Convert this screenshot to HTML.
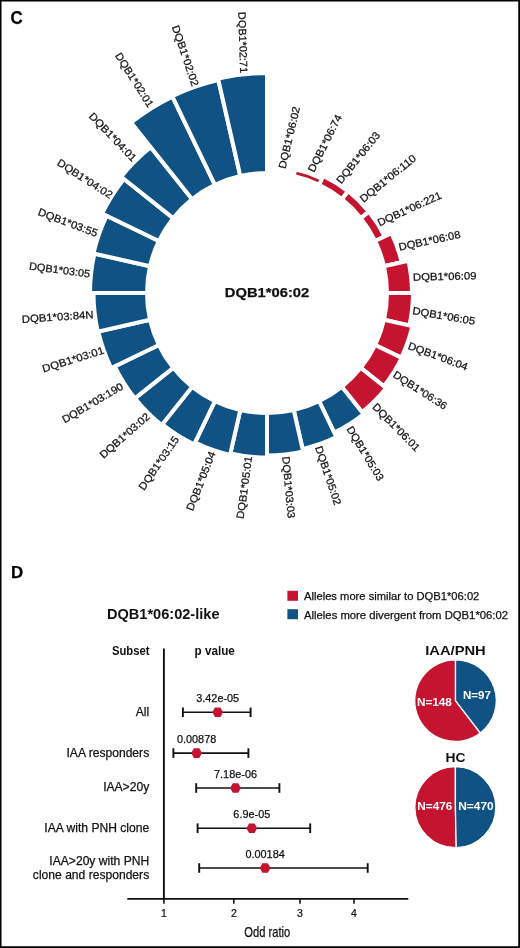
<!DOCTYPE html>
<html><head><meta charset="utf-8"><title>DQB1*06:02 circular plot and forest plot</title>
<style>
html,body{margin:0;padding:0;background:#fff;}
body{width:520px;height:948px;position:relative;overflow:hidden;font-family:"Liberation Sans", sans-serif;}
</style></head><body>
<svg width="520" height="948" viewBox="0 0 520 948" style="position:absolute;left:0;top:0;will-change:transform;opacity:0.999" font-family='"Liberation Sans", sans-serif'>
<rect width="520" height="948" fill="#fff"/>
<g stroke="#fff" stroke-width="4.0" stroke-linejoin="miter"><path d="M293.70,176.01 L295.26,169.18 A127.00,127.00 0 0 1 322.10,178.58 L319.07,184.88 A120.00,120.00 0 0 0 293.70,176.01 Z" fill="#c41430"/><path d="M319.07,184.88 L323.40,175.87 A130.00,130.00 0 0 1 348.05,191.36 L341.82,199.18 A120.00,120.00 0 0 0 319.07,184.88 Z" fill="#c41430"/><path d="M341.82,199.18 L348.24,191.13 A130.30,130.30 0 0 1 368.87,211.76 L360.82,218.18 A120.00,120.00 0 0 0 341.82,199.18 Z" fill="#c41430"/><path d="M360.82,218.18 L369.03,211.63 A130.50,130.50 0 0 1 384.58,236.38 L375.12,240.93 A120.00,120.00 0 0 0 360.82,218.18 Z" fill="#c41430"/><path d="M375.12,240.93 L391.42,233.08 A138.10,138.10 0 0 1 401.64,262.27 L383.99,266.30 A120.00,120.00 0 0 0 375.12,240.93 Z" fill="#c41430"/><path d="M383.99,266.30 L408.36,260.73 A145.00,145.00 0 0 1 412.00,293.00 L387.00,293.00 A120.00,120.00 0 0 0 383.99,266.30 Z" fill="#c41430"/><path d="M387.00,293.00 L413.00,293.00 A146.00,146.00 0 0 1 409.34,325.49 L383.99,319.70 A120.00,120.00 0 0 0 387.00,293.00 Z" fill="#c41430"/><path d="M383.99,319.70 L412.26,326.16 A149.00,149.00 0 0 1 401.24,357.65 L375.12,345.07 A120.00,120.00 0 0 0 383.99,319.70 Z" fill="#c41430"/><path d="M375.12,345.07 L401.69,357.87 A149.50,149.50 0 0 1 383.88,386.21 L360.82,367.82 A120.00,120.00 0 0 0 375.12,345.07 Z" fill="#c41430"/><path d="M360.82,367.82 L386.23,388.08 A152.50,152.50 0 0 1 362.08,412.23 L341.82,386.82 A120.00,120.00 0 0 0 360.82,367.82 Z" fill="#c41430"/><path d="M341.82,386.82 L363.64,414.18 A155.00,155.00 0 0 1 334.25,432.65 L319.07,401.12 A120.00,120.00 0 0 0 341.82,386.82 Z" fill="#0f5283"/><path d="M319.07,401.12 L336.42,437.16 A160.00,160.00 0 0 1 302.60,448.99 L293.70,409.99 A120.00,120.00 0 0 0 319.07,401.12 Z" fill="#0f5283"/><path d="M293.70,409.99 L303.16,451.43 A162.50,162.50 0 0 1 267.00,455.50 L267.00,413.00 A120.00,120.00 0 0 0 293.70,409.99 Z" fill="#0f5283"/><path d="M267.00,413.00 L267.00,457.50 A164.50,164.50 0 0 1 230.40,453.38 L240.30,409.99 A120.00,120.00 0 0 0 267.00,413.00 Z" fill="#0f5283"/><path d="M240.30,409.99 L230.06,454.84 A166.00,166.00 0 0 1 194.98,442.56 L214.93,401.12 A120.00,120.00 0 0 0 240.30,409.99 Z" fill="#0f5283"/><path d="M214.93,401.12 L194.11,444.36 A168.00,168.00 0 0 1 162.25,424.35 L192.18,386.82 A120.00,120.00 0 0 0 214.93,401.12 Z" fill="#0f5283"/><path d="M192.18,386.82 L161.63,425.13 A169.00,169.00 0 0 1 134.87,398.37 L173.18,367.82 A120.00,120.00 0 0 0 192.18,386.82 Z" fill="#0f5283"/><path d="M173.18,367.82 L134.87,398.37 A169.00,169.00 0 0 1 114.74,366.33 L158.88,345.07 A120.00,120.00 0 0 0 173.18,367.82 Z" fill="#0f5283"/><path d="M158.88,345.07 L111.13,368.06 A173.00,173.00 0 0 1 98.34,331.50 L150.01,319.70 A120.00,120.00 0 0 0 158.88,345.07 Z" fill="#0f5283"/><path d="M150.01,319.70 L97.85,331.61 A173.50,173.50 0 0 1 93.50,293.00 L147.00,293.00 A120.00,120.00 0 0 0 150.01,319.70 Z" fill="#0f5283"/><path d="M147.00,293.00 L90.00,293.00 A177.00,177.00 0 0 1 94.44,253.61 L150.01,266.30 A120.00,120.00 0 0 0 147.00,293.00 Z" fill="#0f5283"/><path d="M150.01,266.30 L93.46,253.39 A178.00,178.00 0 0 1 106.63,215.77 L158.88,240.93 A120.00,120.00 0 0 0 150.01,266.30 Z" fill="#0f5283"/><path d="M158.88,240.93 L102.12,213.60 A183.00,183.00 0 0 1 123.92,178.90 L173.18,218.18 A120.00,120.00 0 0 0 158.88,240.93 Z" fill="#0f5283"/><path d="M173.18,218.18 L121.19,176.72 A186.50,186.50 0 0 1 150.72,147.19 L192.18,199.18 A120.00,120.00 0 0 0 173.18,218.18 Z" fill="#0f5283"/><path d="M192.18,199.18 L131.08,122.56 A218.00,218.00 0 0 1 172.41,96.59 L214.93,184.88 A120.00,120.00 0 0 0 192.18,199.18 Z" fill="#0f5283"/><path d="M214.93,184.88 L172.20,96.14 A218.50,218.50 0 0 1 218.38,79.98 L240.30,176.01 A120.00,120.00 0 0 0 214.93,184.88 Z" fill="#0f5283"/><path d="M240.30,176.01 L218.05,78.52 A220.00,220.00 0 0 1 267.00,73.00 L267.00,173.00 A120.00,120.00 0 0 0 240.30,176.01 Z" fill="#0f5283"/></g>
<text x="0.00" y="3.86" font-size="10.60" fill="#111" text-anchor="middle" textLength="63.34" lengthAdjust="spacingAndGlyphs" transform="translate(288.95 137.50) rotate(-76.60)" stroke="#111" stroke-width="0.25">DQB1*06:02</text>
<text x="0.00" y="3.86" font-size="10.60" fill="#111" text-anchor="middle" textLength="62.84" lengthAdjust="spacingAndGlyphs" transform="translate(324.65 143.25) rotate(-63.39)" stroke="#111" stroke-width="0.25">DQB1*06:74</text>
<text x="0.00" y="3.86" font-size="10.60" fill="#111" text-anchor="middle" textLength="62.99" lengthAdjust="spacingAndGlyphs" transform="translate(358.00 157.50) rotate(-51.21)" stroke="#111" stroke-width="0.25">DQB1*06:03</text>
<text x="0.00" y="3.86" font-size="10.60" fill="#111" text-anchor="middle" textLength="68.79" lengthAdjust="spacingAndGlyphs" transform="translate(387.75 178.25) rotate(-39.11)" stroke="#111" stroke-width="0.25">DQB1*06:110</text>
<text x="0.00" y="3.86" font-size="10.60" fill="#111" text-anchor="middle" textLength="69.18" lengthAdjust="spacingAndGlyphs" transform="translate(409.30 208.60) rotate(-24.43)" stroke="#111" stroke-width="0.25">DQB1*06:221</text>
<text x="0.00" y="3.86" font-size="10.60" fill="#111" text-anchor="middle" textLength="62.93" lengthAdjust="spacingAndGlyphs" transform="translate(429.45 240.35) rotate(-12.03)" stroke="#111" stroke-width="0.25">DQB1*06:08</text>
<text x="0.00" y="3.86" font-size="10.60" fill="#111" text-anchor="middle" textLength="63.61" lengthAdjust="spacingAndGlyphs" transform="translate(444.70 276.15) rotate(-1.31)" stroke="#111" stroke-width="0.25">DQB1*06:09</text>
<text x="0.00" y="3.86" font-size="10.60" fill="#111" text-anchor="middle" textLength="63.42" lengthAdjust="spacingAndGlyphs" transform="translate(443.90 315.60) rotate(9.76)" stroke="#111" stroke-width="0.25">DQB1*06:05</text>
<text x="0.00" y="3.86" font-size="10.60" fill="#111" text-anchor="middle" textLength="62.75" lengthAdjust="spacingAndGlyphs" transform="translate(438.00 356.00) rotate(20.51)" stroke="#111" stroke-width="0.25">DQB1*06:04</text>
<text x="0.00" y="3.86" font-size="10.60" fill="#111" text-anchor="middle" textLength="62.00" lengthAdjust="spacingAndGlyphs" transform="translate(420.30 390.15) rotate(32.80)" stroke="#111" stroke-width="0.25">DQB1*06:36</text>
<text x="0.00" y="3.86" font-size="10.60" fill="#111" text-anchor="middle" textLength="62.66" lengthAdjust="spacingAndGlyphs" transform="translate(396.45 427.05) rotate(45.29)" stroke="#111" stroke-width="0.25">DQB1*06:01</text>
<text x="0.00" y="3.86" font-size="10.60" fill="#111" text-anchor="middle" textLength="61.90" lengthAdjust="spacingAndGlyphs" transform="translate(365.50 453.35) rotate(58.73)" stroke="#111" stroke-width="0.25">DQB1*05:03</text>
<text x="0.00" y="3.86" font-size="10.60" fill="#111" text-anchor="middle" textLength="61.51" lengthAdjust="spacingAndGlyphs" transform="translate(328.45 475.35) rotate(71.57)" stroke="#111" stroke-width="0.25">DQB1*05:02</text>
<text x="0.00" y="3.86" font-size="10.60" fill="#111" text-anchor="middle" textLength="61.83" lengthAdjust="spacingAndGlyphs" transform="translate(288.80 487.30) rotate(84.79)" stroke="#111" stroke-width="0.25">DQB1*03:03</text>
<text x="0.00" y="3.86" font-size="10.60" fill="#111" text-anchor="middle" textLength="63.13" lengthAdjust="spacingAndGlyphs" transform="translate(244.05 487.50) rotate(-82.14)" stroke="#111" stroke-width="0.25">DQB1*05:01</text>
<text x="0.00" y="3.86" font-size="10.60" fill="#111" text-anchor="middle" textLength="62.60" lengthAdjust="spacingAndGlyphs" transform="translate(200.65 480.95) rotate(-68.45)" stroke="#111" stroke-width="0.25">DQB1*05:04</text>
<text x="0.00" y="3.86" font-size="10.60" fill="#111" text-anchor="middle" textLength="62.61" lengthAdjust="spacingAndGlyphs" transform="translate(158.60 462.90) rotate(-55.51)" stroke="#111" stroke-width="0.25">DQB1*03:15</text>
<text x="0.00" y="3.86" font-size="10.60" fill="#111" text-anchor="middle" textLength="62.85" lengthAdjust="spacingAndGlyphs" transform="translate(124.55 435.40) rotate(-41.31)" stroke="#111" stroke-width="0.25">DQB1*03:02</text>
<text x="0.00" y="3.86" font-size="10.60" fill="#111" text-anchor="middle" textLength="69.02" lengthAdjust="spacingAndGlyphs" transform="translate(92.40 402.70) rotate(-30.52)" stroke="#111" stroke-width="0.25">DQB1*03:190</text>
<text x="0.00" y="3.86" font-size="10.60" fill="#111" text-anchor="middle" textLength="63.96" lengthAdjust="spacingAndGlyphs" transform="translate(73.00 359.25) rotate(-17.20)" stroke="#111" stroke-width="0.25">DQB1*03:01</text>
<text x="0.00" y="3.86" font-size="10.60" fill="#111" text-anchor="middle" textLength="71.84" lengthAdjust="spacingAndGlyphs" transform="translate(57.60 316.65) rotate(-3.81)" stroke="#111" stroke-width="0.25">DQB1*03:84N</text>
<text x="0.00" y="3.86" font-size="10.60" fill="#111" text-anchor="middle" textLength="61.28" lengthAdjust="spacingAndGlyphs" transform="translate(59.60 269.70) rotate(7.59)" stroke="#111" stroke-width="0.25">DQB1*03:05</text>
<text x="0.00" y="3.86" font-size="10.60" fill="#111" text-anchor="middle" textLength="62.91" lengthAdjust="spacingAndGlyphs" transform="translate(68.05 222.30) rotate(20.66)" stroke="#111" stroke-width="0.25">DQB1*03:55</text>
<text x="0.00" y="3.86" font-size="10.60" fill="#111" text-anchor="middle" textLength="63.53" lengthAdjust="spacingAndGlyphs" transform="translate(85.05 178.55) rotate(32.77)" stroke="#111" stroke-width="0.25">DQB1*04:02</text>
<text x="0.00" y="3.86" font-size="10.60" fill="#111" text-anchor="middle" textLength="63.24" lengthAdjust="spacingAndGlyphs" transform="translate(113.00 136.80) rotate(46.29)" stroke="#111" stroke-width="0.25">DQB1*04:01</text>
<text x="0.00" y="3.86" font-size="10.60" fill="#111" text-anchor="middle" textLength="62.34" lengthAdjust="spacingAndGlyphs" transform="translate(134.60 79.70) rotate(57.80)" stroke="#111" stroke-width="0.25">DQB1*02:01</text>
<text x="0.00" y="3.86" font-size="10.60" fill="#111" text-anchor="middle" textLength="63.61" lengthAdjust="spacingAndGlyphs" transform="translate(185.55 55.67) rotate(71.42)" stroke="#111" stroke-width="0.25">DQB1*02:02</text>
<text x="0.00" y="3.86" font-size="10.60" fill="#111" text-anchor="middle" textLength="61.13" lengthAdjust="spacingAndGlyphs" transform="translate(243.15 42.55) rotate(88.21)" stroke="#111" stroke-width="0.25">DQB1*02:71</text>
<text x="267.00" y="297.20" font-size="13.00" fill="#111" font-weight="bold" text-anchor="middle" textLength="84.50" lengthAdjust="spacingAndGlyphs" stroke="#111" stroke-width="0.25">DQB1*06:02</text>
<text x="10.60" y="24.00" font-size="17.50" fill="#000" font-weight="bold" textLength="12.20" lengthAdjust="spacingAndGlyphs" stroke="#000" stroke-width="0.25">C</text>
<text x="11.00" y="577.60" font-size="16.00" fill="#000" font-weight="bold" textLength="12.20" lengthAdjust="spacingAndGlyphs" stroke="#000" stroke-width="0.25">D</text>
<text x="107.00" y="619.10" font-size="14.00" fill="#111" font-weight="bold" textLength="112.50" lengthAdjust="spacingAndGlyphs">DQB1*06:02-like</text>
<text x="112.00" y="655.20" font-size="12.00" fill="#111" font-weight="bold" textLength="37.50" lengthAdjust="spacingAndGlyphs">Subset</text>
<text x="194.60" y="655.20" font-size="12.00" fill="#111" font-weight="bold" textLength="40.20" lengthAdjust="spacingAndGlyphs">p value</text>
<text x="149.20" y="715.70" font-size="12.10" fill="#111" text-anchor="end" stroke="#111" stroke-width="0.25">All</text>
<text x="149.20" y="756.50" font-size="12.10" fill="#111" text-anchor="end" stroke="#111" stroke-width="0.25">IAA responders</text>
<text x="149.20" y="791.20" font-size="12.10" fill="#111" text-anchor="end" stroke="#111" stroke-width="0.25">IAA&gt;20y</text>
<text x="149.20" y="832.00" font-size="12.10" fill="#111" text-anchor="end" stroke="#111" stroke-width="0.25">IAA with PNH clone</text>
<text x="149.20" y="864.50" font-size="12.10" fill="#111" text-anchor="end" stroke="#111" stroke-width="0.25">IAA&gt;20y with PNH</text>
<text x="149.20" y="878.70" font-size="12.10" fill="#111" text-anchor="end" stroke="#111" stroke-width="0.25">clone and responders</text>
<g stroke="#111" fill="none">
<line x1="163.9" y1="648.5" x2="163.9" y2="899.5" stroke-width="1.9"/>
<line x1="127.3" y1="898.9" x2="408.3" y2="898.9" stroke-width="1.9"/>
<line x1="163.9" y1="899" x2="163.9" y2="903.8" stroke-width="1.6"/>
<line x1="233.8" y1="899" x2="233.8" y2="903.8" stroke-width="1.6"/>
<line x1="300.0" y1="899" x2="300.0" y2="903.8" stroke-width="1.6"/>
<line x1="354.0" y1="899" x2="354.0" y2="903.8" stroke-width="1.6"/>
</g>
<text x="0.00" y="916.70" font-size="11.30" fill="#111" text-anchor="middle" transform="translate(163.9 0) scale(0.93 1)" stroke="#111" stroke-width="0.25">1</text>
<text x="0.00" y="916.70" font-size="11.30" fill="#111" text-anchor="middle" transform="translate(233.8 0) scale(0.93 1)" stroke="#111" stroke-width="0.25">2</text>
<text x="0.00" y="916.70" font-size="11.30" fill="#111" text-anchor="middle" transform="translate(300.0 0) scale(0.93 1)" stroke="#111" stroke-width="0.25">3</text>
<text x="0.00" y="916.70" font-size="11.30" fill="#111" text-anchor="middle" transform="translate(354.0 0) scale(0.93 1)" stroke="#111" stroke-width="0.25">4</text>
<text x="244.30" y="937.20" font-size="14.20" fill="#111" textLength="46.00" lengthAdjust="spacingAndGlyphs" stroke="#111" stroke-width="0.25">Odd ratio</text>
<line x1="182.9" y1="712.3" x2="250.6" y2="712.3" stroke="#111" stroke-width="1.6"/>
<line x1="182.9" y1="707.5" x2="182.9" y2="717.1" stroke="#111" stroke-width="1.9"/>
<line x1="250.6" y1="707.5" x2="250.6" y2="717.1" stroke="#111" stroke-width="1.9"/>
<polygon points="212.30,712.30 215.00,707.50 220.40,707.50 223.10,712.30 220.40,717.10 215.00,717.10" fill="#c41430"/>
<text x="217.70" y="702.00" font-size="10.90" fill="#111" text-anchor="middle" stroke="#111" stroke-width="0.25">3.42e-05</text>
<line x1="173.4" y1="753.1" x2="248.4" y2="753.1" stroke="#111" stroke-width="1.6"/>
<line x1="173.4" y1="748.3" x2="173.4" y2="757.9" stroke="#111" stroke-width="1.9"/>
<line x1="248.4" y1="748.3" x2="248.4" y2="757.9" stroke="#111" stroke-width="1.9"/>
<polygon points="191.20,753.10 193.90,748.30 199.30,748.30 202.00,753.10 199.30,757.90 193.90,757.90" fill="#c41430"/>
<text x="196.60" y="742.70" font-size="10.90" fill="#111" text-anchor="middle" stroke="#111" stroke-width="0.25">0.00878</text>
<line x1="196.2" y1="788.0" x2="279.4" y2="788.0" stroke="#111" stroke-width="1.6"/>
<line x1="196.2" y1="783.2" x2="196.2" y2="792.8" stroke="#111" stroke-width="1.9"/>
<line x1="279.4" y1="783.2" x2="279.4" y2="792.8" stroke="#111" stroke-width="1.9"/>
<polygon points="230.10,788.00 232.80,783.20 238.20,783.20 240.90,788.00 238.20,792.80 232.80,792.80" fill="#c41430"/>
<text x="235.50" y="777.80" font-size="10.90" fill="#111" text-anchor="middle" stroke="#111" stroke-width="0.25">7.18e-06</text>
<line x1="197.6" y1="828.2" x2="310.2" y2="828.2" stroke="#111" stroke-width="1.6"/>
<line x1="197.6" y1="823.4" x2="197.6" y2="833.0" stroke="#111" stroke-width="1.9"/>
<line x1="310.2" y1="823.4" x2="310.2" y2="833.0" stroke="#111" stroke-width="1.9"/>
<polygon points="246.40,828.20 249.10,823.40 254.50,823.40 257.20,828.20 254.50,833.00 249.10,833.00" fill="#c41430"/>
<text x="251.80" y="818.40" font-size="10.90" fill="#111" text-anchor="middle" stroke="#111" stroke-width="0.25">6.9e-05</text>
<line x1="199.2" y1="868.0" x2="367.7" y2="868.0" stroke="#111" stroke-width="1.6"/>
<line x1="199.2" y1="863.2" x2="199.2" y2="872.8" stroke="#111" stroke-width="1.9"/>
<line x1="367.7" y1="863.2" x2="367.7" y2="872.8" stroke="#111" stroke-width="1.9"/>
<polygon points="259.70,868.00 262.40,863.20 267.80,863.20 270.50,868.00 267.80,872.80 262.40,872.80" fill="#c41430"/>
<text x="265.10" y="858.00" font-size="10.90" fill="#111" text-anchor="middle" stroke="#111" stroke-width="0.25">0.00184</text>
<rect x="287.4" y="590.8" width="10.6" height="10" fill="#c41430"/>
<rect x="287.4" y="609.2" width="10.6" height="10" fill="#0f5283"/>
<text x="304.00" y="600.10" font-size="11.20" fill="#111" stroke="#111" stroke-width="0.25">Alleles more similar to DQB1*06:02</text>
<text x="304.00" y="618.60" font-size="11.30" fill="#111" stroke="#111" stroke-width="0.25">Alleles more divergent from DQB1*06:02</text>
<g stroke="#fff" stroke-width="1.3" stroke-linejoin="round"><path d="M455.50,700.60 L480.32,732.98 A40.80,40.80 0 1 1 455.50,659.80 Z" fill="#c41430"/><path d="M455.50,700.60 L455.50,659.80 A40.80,40.80 0 0 1 480.32,732.98 Z" fill="#0f5283"/></g>
<g stroke="#fff" stroke-width="1.3" stroke-linejoin="round"><path d="M455.40,807.20 L456.21,847.69 A40.50,40.50 0 1 1 455.40,766.70 Z" fill="#c41430"/><path d="M455.40,807.20 L455.40,766.70 A40.50,40.50 0 0 1 456.21,847.69 Z" fill="#0f5283"/></g>
<text x="455.50" y="655.40" font-size="13.50" fill="#111" font-weight="bold" text-anchor="middle" textLength="60.50" lengthAdjust="spacingAndGlyphs">IAA/PNH</text>
<text x="455.40" y="762.20" font-size="13.50" fill="#111" font-weight="bold" text-anchor="middle" textLength="20.00" lengthAdjust="spacingAndGlyphs">HC</text>
<text x="434.40" y="705.70" font-size="11.20" fill="#fff" font-weight="bold" text-anchor="middle" textLength="35.00" lengthAdjust="spacingAndGlyphs">N=148</text>
<text x="477.00" y="699.40" font-size="11.20" fill="#fff" font-weight="bold" text-anchor="middle" textLength="28.00" lengthAdjust="spacingAndGlyphs">N=97</text>
<text x="434.80" y="809.80" font-size="11.20" fill="#fff" font-weight="bold" text-anchor="middle" textLength="35.00" lengthAdjust="spacingAndGlyphs">N=476</text>
<text x="476.00" y="809.80" font-size="11.20" fill="#fff" font-weight="bold" text-anchor="middle" textLength="35.50" lengthAdjust="spacingAndGlyphs">N=470</text>
<g fill="#000"><rect x="0" y="0" width="520" height="1.5"/><rect x="0" y="0" width="1.5" height="948"/><rect x="518.25" y="0" width="1.75" height="948"/><rect x="0" y="946.25" width="520" height="1.75"/></g>
</svg>
</body></html>
